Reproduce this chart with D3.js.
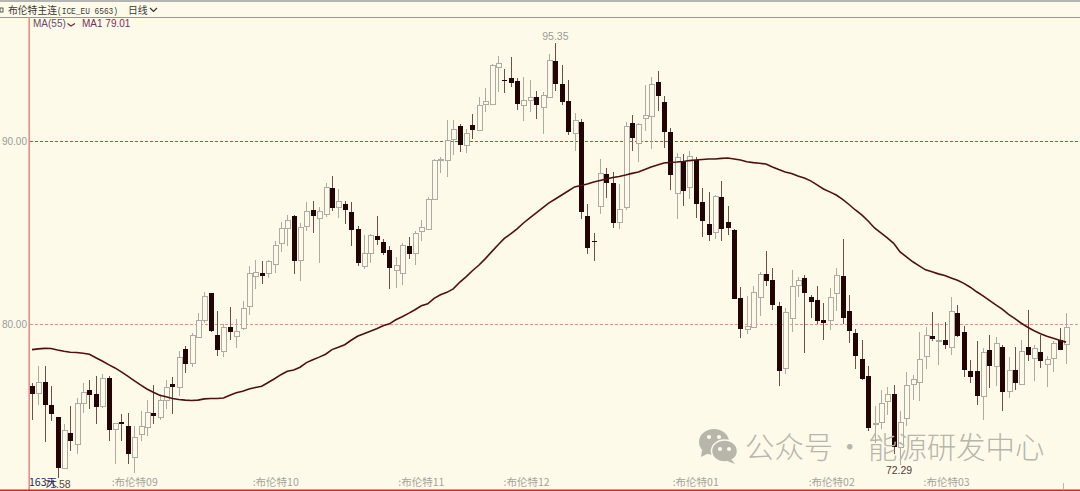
<!DOCTYPE html>
<html><head><meta charset="utf-8">
<style>html,body{margin:0;padding:0;background:#fefaea;overflow:hidden}svg{display:block}
text{font-family:"Liberation Sans","Noto Sans CJK SC",sans-serif}</style>
<script src="https://cdn.jsdelivr.net/npm/d3@7"></script></head><body>
<svg id="c" width="1080" height="491"></svg>
<script>
const opens=[76.60,76.24,76.82,75.55,74.91,72.15,74.07,73.45,75.69,76.42,
76.15,75.53,77.07,74.24,74.64,74.45,72.73,74.00,74.38,75.15,
74.93,75.82,76.73,76.55,78.64,77.87,79.33,80.24,81.69,79.38,
78.55,79.84,79.36,79.82,80.96,82.62,82.80,82.78,83.27,84.42,
85.24,85.89,83.47,85.33,86.24,85.80,86.02,87.42,86.38,86.56,
86.11,85.20,83.18,83.87,84.82,84.47,84.04,82.98,82.82,84.26,
83.85,85.07,85.22,86.84,88.96,88.95,90.11,90.82,89.82,90.87,
90.64,92.02,92.04,94.04,93.36,93.45,93.29,91.95,92.27,92.42,
91.89,92.42,94.38,93.09,92.20,90.42,91.04,85.91,84.51,86.45,
88.20,87.73,85.55,86.36,90.98,89.93,91.24,91.36,93.25,92.11,
90.47,87.15,88.89,87.49,88.96,86.67,85.47,85.02,86.95,85.55,
85.16,81.42,79.75,79.82,81.45,82.73,82.42,80.98,77.58,80.31,
82.13,82.49,81.45,81.29,80.20,80.20,81.69,82.64,80.69,79.51,
78.11,77.16,74.56,74.65,75.76,76.20,73.29,74.82,76.69,76.82,
78.24,79.33,79.09,79.15,78.75,80.60,79.58,77.42,77.42,76.07,
78.60,77.71,78.73,76.33,77.51,76.71,78.76,78.15,78.45,77.82,
78.15,79.15,78.89];
const closes=[76.15,76.82,75.55,75.06,72.15,74.22,73.64,75.69,76.27,76.15,
75.46,77.07,74.24,74.58,74.51,72.93,73.85,74.42,75.18,74.96,
75.84,76.55,76.55,78.20,77.82,79.38,80.24,81.55,79.64,78.58,
79.84,79.55,79.64,80.89,82.76,82.82,82.64,83.45,84.29,85.24,
85.67,83.42,85.29,86.15,85.93,86.20,87.51,86.33,86.71,86.24,
85.11,83.36,83.87,84.84,84.60,83.87,83.06,83.24,84.33,83.85,
84.95,85.29,86.85,88.98,89.04,90.07,90.64,89.76,90.46,90.62,
91.98,92.20,94.16,94.27,93.33,93.20,92.05,92.24,92.42,91.96,
92.53,94.45,93.15,92.09,90.49,91.13,86.11,84.18,84.47,88.24,
87.71,85.53,86.27,90.80,90.15,90.95,91.40,93.09,92.51,90.49,
88.11,89.11,87.27,89.20,86.58,85.64,84.89,87.00,85.22,85.22,
81.40,79.71,79.89,81.73,82.73,82.36,81.05,77.45,80.64,82.07,
82.40,81.67,81.15,80.13,80.02,81.47,82.67,80.36,79.58,78.24,
77.02,74.31,74.60,75.69,76.15,73.33,74.65,76.64,76.98,78.07,
79.40,79.15,79.15,78.89,80.69,79.33,77.51,77.11,76.05,78.47,
77.75,78.95,76.27,77.49,76.80,78.51,78.33,78.69,77.95,78.09,
78.96,78.62,79.84];
const highs=[76.78,77.69,77.73,76.60,74.91,74.51,75.51,75.96,76.78,76.96,
77.18,77.27,77.15,74.60,75.06,75.11,74.45,75.24,75.84,76.66,
76.15,76.96,77.13,78.51,78.82,79.51,80.60,81.73,81.69,80.69,
80.00,80.95,80.29,81.24,83.15,83.51,83.42,83.51,84.51,85.60,
85.96,85.96,85.51,86.65,86.73,86.38,87.69,88.11,87.38,86.73,
86.67,85.36,84.87,84.93,85.91,84.66,84.24,83.65,84.42,84.75,
85.06,85.69,86.96,89.00,89.15,91.15,91.15,90.93,90.64,91.47,
92.42,92.87,94.20,94.64,93.91,94.60,93.42,93.47,93.36,92.73,
92.69,94.78,95.35,94.13,93.33,91.55,91.18,86.56,85.00,89.04,
88.51,88.29,87.65,91.05,91.42,91.00,93.05,93.51,93.82,92.47,
90.69,89.33,89.29,89.47,89.11,87.42,87.24,87.05,87.82,86.47,
85.18,82.00,81.51,82.05,82.84,84.00,83.07,81.20,80.87,82.96,
82.56,82.69,81.60,82.09,81.15,81.95,83.05,84.64,81.56,79.73,
79.11,77.69,75.51,76.38,76.56,76.69,75.24,77.38,77.24,79.56,
79.82,80.65,80.05,80.11,81.47,81.05,79.87,78.05,79.09,78.69,
79.42,79.29,78.87,78.20,78.75,79.15,80.78,78.87,79.42,78.24,
79.05,79.78,80.60];
const lows=[74.75,75.55,73.57,74.69,71.58,72.06,73.05,72.91,75.11,75.38,
74.55,75.42,73.60,72.33,73.60,72.37,71.87,73.60,73.87,74.56,
74.75,75.33,75.06,76.05,77.33,77.64,79.24,80.06,79.56,78.27,
78.18,79.15,78.69,79.69,80.47,81.93,82.18,82.51,82.78,83.91,
84.24,82.75,82.36,85.06,85.00,83.33,85.87,86.18,85.78,85.47,
84.27,83.15,83.00,83.33,84.31,83.78,81.91,81.96,82.15,83.55,
83.24,84.56,85.15,86.78,88.27,88.05,89.24,89.42,89.33,90.09,
90.60,91.60,92.02,92.69,92.65,92.96,91.69,91.11,91.60,91.18,
90.38,92.38,92.75,91.96,90.33,89.47,85.75,83.84,83.44,86.00,
86.91,85.22,85.18,86.24,89.47,88.87,90.56,89.56,91.65,89.64,
87.33,85.75,86.47,86.82,85.78,84.75,84.56,84.64,84.56,84.87,
81.38,79.22,79.44,79.80,80.42,82.05,80.78,76.60,77.27,79.56,
81.45,78.42,80.33,80.00,79.11,79.69,80.69,80.02,78.96,77.55,
76.96,74.15,73.51,74.24,75.02,72.87,72.29,74.42,75.82,75.78,
77.55,79.09,77.78,78.64,78.33,79.27,77.09,76.75,75.60,74.78,
76.51,76.60,75.27,75.96,76.38,76.69,77.96,76.87,77.60,76.55,
77.36,78.60,77.84];
const ma55=[78.60,78.64,78.67,78.66,78.58,78.51,78.46,78.44,78.40,78.35,
78.16,77.98,77.78,77.60,77.38,77.15,76.91,76.67,76.45,76.27,
76.11,76.02,75.93,75.87,75.84,75.82,75.84,75.91,75.93,75.93,
75.96,76.11,76.24,76.33,76.45,76.53,76.60,76.80,77.01,77.23,
77.42,77.49,77.64,77.89,78.05,78.19,78.35,78.60,78.73,78.87,
79.11,79.33,79.47,79.60,79.74,79.90,80.01,80.23,80.40,80.58,
80.78,81.00,81.10,81.40,81.60,81.73,81.92,82.28,82.58,82.91,
83.21,83.56,83.94,84.32,84.68,84.92,85.20,85.52,85.80,86.07,
86.34,86.62,86.83,87.05,87.27,87.49,87.57,87.65,87.76,87.84,
87.92,88.01,88.06,88.14,88.23,88.31,88.44,88.58,88.69,88.80,
88.83,88.85,88.88,88.93,88.96,88.99,89.02,89.02,89.05,89.07,
89.02,88.96,88.87,88.82,88.78,88.74,88.58,88.44,88.31,88.22,
88.09,87.98,87.82,87.60,87.38,87.22,87.05,86.81,86.53,86.23,
85.96,85.63,85.25,84.98,84.71,84.41,83.94,83.67,83.40,83.18,
82.96,82.85,82.74,82.65,82.52,82.39,82.22,82.01,81.76,81.54,
81.29,81.05,80.81,80.53,80.29,80.04,79.82,79.63,79.47,79.33,
79.22,79.11,79.01];
const priceTicks=[80,90];
const monthPositions=[12.4,34.5,57.3,73.8,100.3,121.6,139.6];
const monthLabels=["布伦特09","布伦特10","布伦特11","布伦特12","布伦特01","布伦特02","布伦特03"];

const svg=d3.select("#c");
const x=d3.scaleLinear().domain([0,162]).range([32,1066]);
const y=d3.scaleLinear().domain([80,90]).range([324,141]);
const bg="#fefaea";

// frame
svg.append("rect").attr("width",1080).attr("height",2).attr("fill","#b4b4b2");
svg.append("line").attr("x1",0).attr("x2",1080).attr("y1",17.5).attr("y2",17.5).attr("stroke","#e07a66").attr("stroke-width",1.2);
svg.append("line").attr("x1",29.2).attr("x2",29.2).attr("y1",17).attr("y2",491).attr("stroke","#e2917f").attr("stroke-width",1.6);
svg.append("line").attr("x1",0).attr("x2",1080).attr("y1",490.3).attr("y2",490.3).attr("stroke","#d6261f").attr("stroke-width",1.4);

// grid + y axis
priceTicks.forEach(p=>{
  svg.append("line").attr("shape-rendering","crispEdges").attr("x1",30).attr("x2",1080).attr("y1",Math.round(y(p))+.5).attr("y2",Math.round(y(p))+.5)
    .attr("stroke",p===90?"#d9403a":"#dc9486").attr("stroke-width",1).attr("stroke-dasharray","3 2");
});
const yAxis=svg.append("g").attr("transform","translate(28,0)")
  .call(d3.axisLeft(y).tickValues(priceTicks).tickFormat(d=>d.toFixed(2)).tickSize(0).tickPadding(1));
yAxis.select(".domain").remove();
yAxis.selectAll("text").attr("fill","#9a9c98").style("font-size","10px").style("font-family",'"Liberation Sans",sans-serif');

// x axis
const xAxis=svg.append("g").attr("transform","translate(0,477)")
  .call(d3.axisBottom(x).tickValues(monthPositions).tickFormat((d,i)=>":"+monthLabels[i]).tickSize(0).tickPadding(2));
xAxis.select(".domain").remove();
xAxis.selectAll("text").attr("text-anchor","start").attr("fill","#a3a39b").style("font-size","10.5px").style("font-family",'"Noto Sans CJK SC",sans-serif');
svg.append("line").attr("x1",1063.5).attr("x2",1063.5).attr("y1",483).attr("y2",490).attr("stroke","#b8b6aa");

// candles
const idx=d3.range(opens.length);
const cx=i=>Math.round(x(i));
const g=svg.append("g").attr("shape-rendering","crispEdges");
g.selectAll(".wick").data(idx).join("line").attr("class","wick")
  .attr("x1",i=>cx(i)+.5).attr("x2",i=>cx(i)+.5)
  .attr("y1",i=>y(highs[i])).attr("y2",i=>y(lows[i]))
  .attr("stroke",i=>closes[i]<opens[i]?"#6d4f4a":"#aeaca2").attr("stroke-width",1);
g.selectAll(".body").data(idx).join("rect").attr("class","body")
  .attr("x",i=>cx(i)-2).attr("width",5)
  .attr("y",i=>Math.round(y(Math.max(opens[i],closes[i]))))
  .attr("height",i=>Math.max(1,Math.round(Math.abs(y(opens[i])-y(closes[i])))))
  .attr("fill",i=>closes[i]<opens[i]?"#230404":bg)
  .attr("stroke",i=>closes[i]<opens[i]?"none":"#aeaca2").attr("stroke-width",1);

// MA
svg.append("path").datum(idx)
  .attr("d",d3.line().x(i=>x(i)).y(i=>y(ma55[i])))
  .attr("fill","none").attr("stroke","#4f1010").attr("stroke-width",1.6);

// labels
const t=(s,xx,yy,fs,col,anchor,fam)=>svg.append("text").attr("x",xx).attr("y",yy).text(s)
  .attr("font-size",fs).attr("fill",col).attr("text-anchor",anchor||"start").style("font-family",fam||'"Liberation Sans",sans-serif');
svg.append("rect").attr("x",0).attr("y",8).attr("width",3).attr("height",4).attr("fill","none").attr("stroke","#333").attr("stroke-width",.8);
t("布伦特主连",8,14,9.8,"#3a3a36","start",'"Noto Sans CJK SC",sans-serif');
t("(ICE_EU 6563)",57,13.5,9,"#3a3a36","start",'"Liberation Mono",monospace').attr("textLength",61).attr("lengthAdjust","spacingAndGlyphs");
t("日线",128,14,9.8,"#3a3a36","start",'"Noto Sans CJK SC",sans-serif');
svg.append("path").attr("d","M150 8 L153.5 11.5 L157 8").attr("fill","none").attr("stroke","#333").attr("stroke-width",1.2);
t("MA(55)",33,27,10,"#6b4a6a");
svg.append("path").attr("d","M67.5 23.5 L71 26 L75 23.5").attr("fill","none").attr("stroke","#6b2a2a").attr("stroke-width",1.2);
t("MA1 79.01",82,27,10,"#7a2a62");
t("95.35",x(82),40,10.5,"#9a9c98","middle");
t("72.29",x(136)-1,474,10.5,"#4f4038","middle");
t("71.58",x(4),488,10.5,"#4f4a44","middle");
t("163天",29,486,10.5,"#1c2a78","start",'"Noto Sans CJK SC",sans-serif');

// watermark
const wm="#b7b6ab";
const w=svg.append("g").attr("fill",wm);
w.append("ellipse").attr("cx",714).attr("cy",442).attr("rx",15).attr("ry",13);
w.append("path").attr("d","M702 450 L701 457 L709 453 Z");
w.append("ellipse").attr("cx",724.5).attr("cy",451).attr("rx",13,).attr("ry",11).attr("stroke",bg).attr("stroke-width",1.5);
w.append("path").attr("d","M731 459 L735 464 L727 461 Z");
[[709,437],[719,437],[720,449],[729,449]].forEach(p=>w.append("circle").attr("cx",p[0]).attr("cy",p[1]).attr("r",2.1).attr("fill",bg));
const wt=svg.append("text").attr("y",458).attr("font-size",29.4).attr("fill",wm).style("font-family",'"Noto Sans CJK SC",sans-serif').style("font-weight",300);
wt.append("tspan").attr("x",745).text("公众号");
wt.append("tspan").attr("x",835).text("·");
wt.append("tspan").attr("x",868).text("能源研发中心");
</script></body></html>
